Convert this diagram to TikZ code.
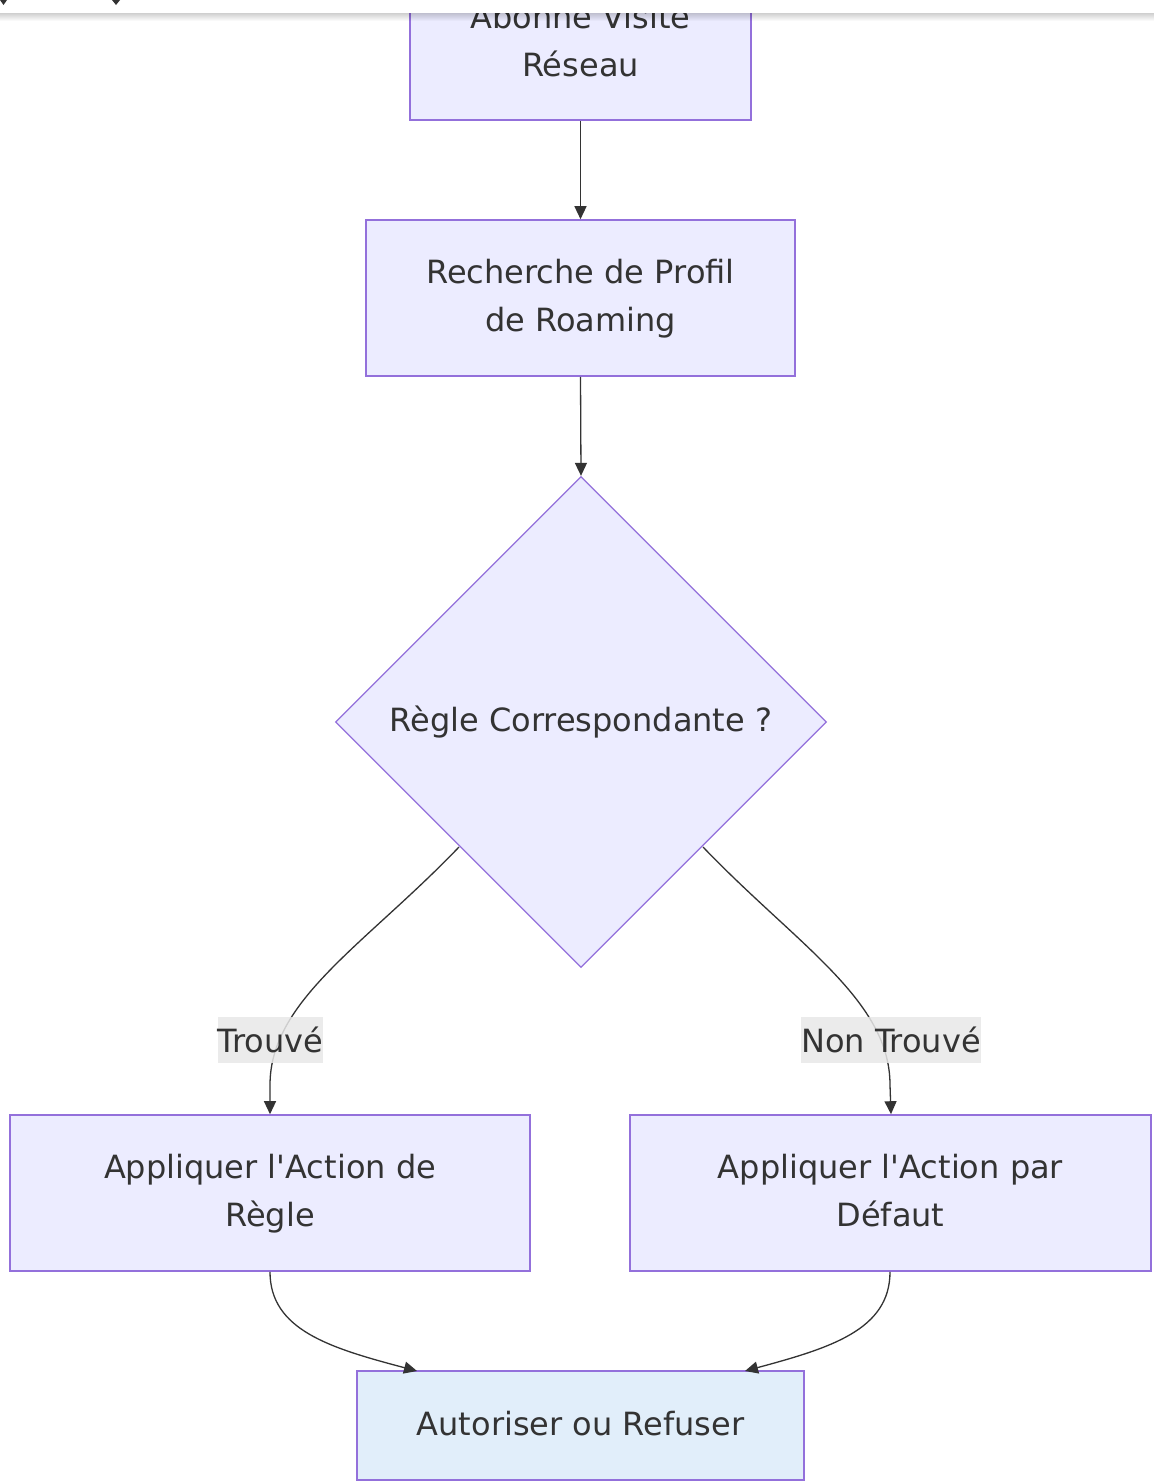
\documentclass[tikz,border=0pt]{standalone}
\usepackage{fontspec}
\setmainfont{DejaVu Sans}[Ligatures=TeXOff]
\usetikzlibrary{shapes.geometric,arrows.meta}
\definecolor{nodefill}{HTML}{ECECFF}
\definecolor{nodeline}{HTML}{9370DB}
\definecolor{endfill}{HTML}{E1EEFA}
\definecolor{edgecol}{HTML}{333333}
\definecolor{txt}{HTML}{333333}
\definecolor{lblfill}{HTML}{E8E8E8}
\begin{document}
\begin{tikzpicture}[x=1pt,y=-1pt,
  every node/.style={font=\fontsize{32}{48}\selectfont, text=txt},
  box/.style={draw=nodeline, fill=nodefill, line width=1.6pt, align=center, inner sep=0pt, rectangle},
  endbox/.style={box, fill=endfill},
  decision/.style={draw=nodeline, fill=nodefill, line width=1.3pt, diamond, aspect=1, minimum width=491pt, minimum height=491pt, inner sep=0pt, align=center},
  conn/.style={draw=edgecol, line width=1.3pt, -{Triangle[length=13pt,width=12pt]}},
  lbl/.style={fill=lblfill, fill opacity=0.85, text opacity=1, inner xsep=0pt, inner ysep=0pt, minimum height=46pt, font=\fontsize{32}{36}\selectfont}
]
\useasboundingbox (0,0) rectangle (1154,1483);
\clip (0,0) rectangle (1154,1483);
\fill[white] (0,0) rectangle (1154,1483);

\node[box, minimum width=341pt, minimum height=154pt] (a) at (580.5,43) {Abonné Visité\strut\\Réseau\strut};
\node[box, minimum width=429pt, minimum height=156pt] (b) at (580.5,298) {Recherche de Profil\strut\\de Roaming\strut};
\node[decision] (c) at (581,722) {Règle Correspondante ?};
\node[box, minimum width=520pt, minimum height=156pt] (d) at (270,1193) {Appliquer l'Action de\strut\\Règle\strut};
\node[box, minimum width=521pt, minimum height=156pt] (e) at (890.5,1193) {Appliquer l'Action par\strut\\Défaut\strut};
\node[endbox, minimum width=447pt, minimum height=109pt] (f) at (580.5,1425.5) {Autoriser ou Refuser\strut};

\coordinate (cl) at (459,847);
\coordinate (cr) at (703,847);

\draw[conn] (a.south) -- (b.north);
\draw[conn] (b.south) -- (c.north);
\draw[conn] (cl) .. controls (365,945) and (270,1000) .. (270,1085) -- (d.north);
\draw[conn] (cr) .. controls (797,945) and (890,1000) .. (890,1085) -- ([xshift=0.5pt]e.north);
\draw[conn] (d.south) .. controls (270,1330) and (330,1348) .. (417,1371);
\draw[conn] ([xshift=-0.5pt]e.south) .. controls (890,1330) and (830,1348) .. (745,1371);

\node[lbl] (l1) at (270.5,1040) {Trouvé};
\node[lbl] (l2) at (891,1040) {Non Trouvé};

% top browser bar with shadow
\foreach \i in {0,...,8} {
  \fill[black, opacity=0.025] (0,13) rectangle (1154,13+\i);
}
\fill[white] (0,0) rectangle (1154,13);
\fill[edgecol] (0,0) -- (7,0) -- (3.5,5) -- cycle;
\fill[edgecol] (112,0) -- (120,0) -- (116,5) -- cycle;
\end{tikzpicture}
\end{document}
